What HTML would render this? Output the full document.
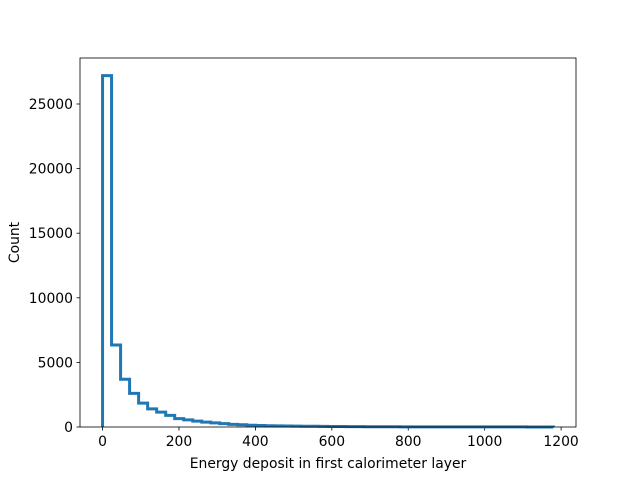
<!DOCTYPE html>
<html><head><meta charset="utf-8"><style>
body{margin:0;background:#fff}
svg text{font-family:"DejaVu Sans","Liberation Sans",sans-serif;font-size:13.9px;fill:#000}
</style></head><body>
<svg id="chart" width="640" height="480">
<rect width="640" height="480" fill="#fff"/>
<g id="ticks"></g>
<path id="hist" fill="none" stroke="#1f77b4" stroke-width="3" stroke-linejoin="miter"/>
<rect x="80" y="58" width="496" height="369" fill="none" stroke="#000" stroke-width="0.8"/>
<text x="328" y="468" text-anchor="middle">Energy deposit in first calorimeter layer</text>
<text transform="translate(19,242.5) rotate(-90)" text-anchor="middle">Count</text>
</svg>
<script>
const binMin = 0;
const binMax = 1180;
const counts = [27200,6350,3700,2600,1850,1400,1150,900,650,550,450,380,320,260,200,170,140,120,100,90,80,70,60,55,50,40,35,30,25,20,18,16,15,14,13,12,11,10,10,9,8,8,7,6,6,5,5,4,4,3];
const xTicks = [0,200,400,600,800,1000,1200];
const yTicks = [0,5000,10000,15000,20000,25000];
const L=80,R=576,T=58,B=427;
const span=binMax-binMin, xmin=binMin-0.05*span, xmax=binMax+0.05*span;
const ymax=Math.max(...counts)*1.05;
const sx=v=>L+(v-xmin)/(xmax-xmin)*(R-L);
const sy=v=>B-v/ymax*(B-T);
const w=span/counts.length;
let d='M'+sx(binMin)+','+sy(0);
counts.forEach((c,i)=>{d+=' L'+sx(binMin+i*w)+','+sy(c)+' L'+sx(binMin+(i+1)*w)+','+sy(c);});
d+=' L'+sx(binMax)+','+sy(0);
document.getElementById('hist').setAttribute('d',d);
const g=document.getElementById('ticks');
const NS='http://www.w3.org/2000/svg';
xTicks.forEach(t=>{
  const x=sx(t);
  const l=document.createElementNS(NS,'line');
  l.setAttribute('x1',x);l.setAttribute('x2',x);l.setAttribute('y1',B);l.setAttribute('y2',B+3.5);l.setAttribute('stroke','#000');l.setAttribute('stroke-width','0.8');
  
  
  g.appendChild(l);
  const tx=document.createElementNS(NS,'text');
  tx.setAttribute('x',x);tx.setAttribute('y',B+19);tx.setAttribute('text-anchor','middle');tx.textContent=t;
  
  
  g.appendChild(tx);
});
yTicks.forEach(t=>{
  const y=sy(t);
  const l=document.createElementNS(NS,'line');
  l.setAttribute('x1',L-3.5);l.setAttribute('x2',L);l.setAttribute('y1',y);l.setAttribute('y2',y);l.setAttribute('stroke','#000');l.setAttribute('stroke-width','0.8');
  
  
  g.appendChild(l);
  const tx=document.createElementNS(NS,'text');
  tx.setAttribute('x',L-7);tx.setAttribute('y',y+5);tx.setAttribute('text-anchor','end');tx.textContent=t;
  
  
  g.appendChild(tx);
});
</script>
</body></html>
